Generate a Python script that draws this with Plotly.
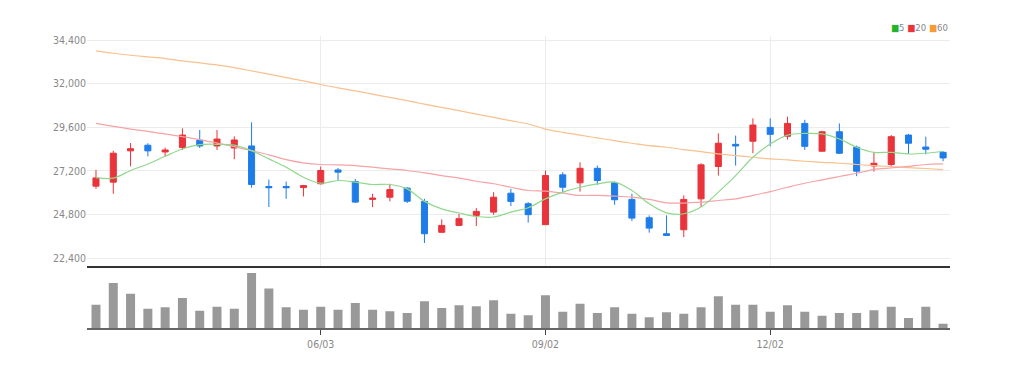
import plotly.graph_objects as go
from plotly.subplots import make_subplots

dates = ["2019-03-04", "2019-03-11", "2019-03-18", "2019-03-25", "2019-04-01", "2019-04-08",
         "2019-04-15", "2019-04-22", "2019-04-29", "2019-05-06", "2019-05-13", "2019-05-20",
         "2019-05-27", "2019-06-03", "2019-06-10", "2019-06-17", "2019-06-24", "2019-07-01",
         "2019-07-08", "2019-07-15", "2019-07-22", "2019-07-29", "2019-08-05", "2019-08-12",
         "2019-08-19", "2019-08-26", "2019-09-02", "2019-09-09", "2019-09-16", "2019-09-23",
         "2019-09-30", "2019-10-07", "2019-10-14", "2019-10-21", "2019-10-28", "2019-11-04",
         "2019-11-11", "2019-11-18", "2019-11-25", "2019-12-02", "2019-12-09", "2019-12-16",
         "2019-12-23", "2019-12-30", "2020-01-06", "2020-01-13", "2020-01-20", "2020-01-27",
         "2020-02-03", "2020-02-10"]

open_ = [26360, 26580, 28300, 28610, 28240, 28480, 28880, 28570, 28460, 28570,
         26340, 26340, 26280, 26490, 27250, 26610, 25630, 25750, 26250, 25520,
         23820, 24200, 24750, 24930, 25970, 25390, 24240, 26980, 26540, 27340,
         26540, 25630, 24620, 23740, 23960, 25660, 27440, 28660, 28830, 29590,
         29100, 29810, 28280, 29350, 28500, 27470, 27550, 29170, 28510, 28220]
high = [27250, 28310, 28730, 28720, 28480, 29540, 29450, 29450, 29100, 29870,
        26720, 26610, 26430, 27440, 27360, 26760, 25940, 26490, 26300, 25660,
        24530, 24840, 25150, 26030, 26210, 25480, 27220, 27130, 27670, 27490,
        26610, 25940, 24750, 24750, 25850, 27620, 29260, 29140, 30090, 30090,
        30180, 30010, 29410, 29810, 28590, 28220, 29170, 29230, 29080, 28280]
low = [26210, 25940, 27450, 28000, 27980, 28350, 28460, 28350, 27840, 26270,
       25210, 25660, 25790, 26450, 26670, 25440, 25210, 25520, 25430, 23230,
       23780, 24160, 24160, 24790, 25260, 24350, 24240, 26030, 26060, 26430,
       25330, 24440, 23800, 23620, 23560, 25210, 26940, 27490, 28170, 28550,
       28920, 28350, 28260, 28130, 26910, 27160, 27400, 28130, 28110, 27730]
close = [26810, 28170, 28420, 28300, 28350, 29170, 28570, 28950, 28900, 26450,
         26270, 26270, 26390, 27220, 27130, 25480, 25700, 26170, 25530, 23740,
         24200, 24570, 24970, 25750, 25520, 24790, 26940, 26300, 27340, 26670,
         25610, 24600, 24050, 23650, 25630, 27530, 28720, 28570, 29720, 29210,
         29810, 28550, 29350, 28170, 27180, 27620, 29080, 28720, 28390, 27910]

ma5 = [26830, 26800, 27220, 27580, 28000, 28400, 28640, 28660, 28620, 28310,
       27860, 27400, 26850, 26520, 26670, 26580, 26450, 26450, 26210, 25520,
       25110, 24880, 24690, 24660, 24930, 25170, 25660, 26030, 26300, 26480,
       26580, 26120, 25390, 24890, 24840, 25210, 26030, 26940, 27950, 28680,
       29170, 29260, 29230, 28950, 28500, 28220, 28220, 28130, 28170, 28280]
ma20 = [29810, 29650, 29500, 29370, 29230, 29080, 28920, 28730, 28530, 28310,
        28080, 27820, 27640, 27550, 27530, 27490, 27400, 27310, 27220, 27090,
        26940, 26800, 26630, 26490, 26300, 26120, 26080, 25970, 25850, 25850,
        25810, 25750, 25630, 25440, 25430, 25480, 25570, 25660, 25850, 26060,
        26300, 26520, 26700, 26890, 27070, 27270, 27360, 27450, 27550, 27580]
ma60 = [33800, 33670, 33560, 33470, 33380, 33250, 33140, 33030, 32880, 32700,
        32520, 32330, 32150, 31950, 31770, 31600, 31420, 31240, 31060, 30870,
        30690, 30510, 30320, 30140, 29960, 29780, 29500, 29320, 29170, 29010,
        28860, 28720, 28590, 28500, 28370, 28260, 28130, 28040, 27950, 27860,
        27800, 27730, 27670, 27620, 27550, 27490, 27440, 27380, 27330, 27270]

volume = [70, 135, 103, 58, 62, 90, 52, 64, 58, 165,
          118, 62, 55, 64, 55, 75, 55, 50, 45, 80,
          60, 68, 65, 83, 43, 38, 98, 49, 73, 45,
          62, 43, 32, 47, 43, 62, 95, 70, 70, 49,
          68, 49, 37, 45, 45, 53, 64, 30, 64, 13]

price_ticks = [22400, 24800, 27200, 29600, 32000, 34400]
date_ticks = ["2019-06-03", "2019-09-02", "2019-12-02"]
date_tick_labels = ["06/03", "09/02", "12/02"]

UP = "#e8343a"
DOWN = "#1e7ce8"
FONT = "Liberation Sans Narrow, DejaVu Sans Condensed, Roboto, Liberation Sans, sans-serif"

fig = make_subplots(rows=2, cols=1, shared_xaxes=False, vertical_spacing=0.0,
                    row_heights=[0.79, 0.21])

fig.add_trace(go.Candlestick(
    x=dates, open=open_, high=high, low=low, close=close,
    increasing=dict(line=dict(color=UP, width=1), fillcolor=UP),
    decreasing=dict(line=dict(color=DOWN, width=1), fillcolor=DOWN),
    showlegend=False, hoverinfo="skip"), row=1, col=1)

for vals, col in [(ma60, "#f9c18f"), (ma20, "#f5a3a6"), (ma5, "#8fd88c")]:
    fig.add_trace(go.Scatter(x=dates, y=vals, mode="lines",
                             line=dict(color=col, width=1.2, shape="spline"),
                             showlegend=False, hoverinfo="skip"), row=1, col=1)

fig.add_trace(go.Bar(x=dates, y=volume, marker=dict(color="#999999", line=dict(width=0)),
                     width=0.52, showlegend=False, hoverinfo="skip"), row=2, col=1)

xr = [-0.52, 49.4]
fig.update_layout(
    width=1013, height=369,
    margin=dict(l=79, r=71, t=28, b=49),
    paper_bgcolor="white", plot_bgcolor="white",
    font=dict(family=FONT, size=10.5, color="#888888"),
    boxgap=0.5, boxgroupgap=0.3,
    xaxis=dict(type="category", range=xr, rangeslider=dict(visible=False),
               domain=[0, 1], showgrid=True, gridcolor="#ececec", gridwidth=1,
               tickvals=date_ticks, ticktext=["", "", ""], showticklabels=False,
               showline=True, linecolor="#333333", linewidth=2, ticks="",
               zeroline=False),
    yaxis=dict(domain=[0.212, 1.0], range=[21960, 34620], tickvals=price_ticks,
               tickformat=",d", showgrid=True, gridcolor="#ececec", gridwidth=1,
               zeroline=False, showline=False, ticks="", ticklen=0,
               tickfont=dict(family=FONT, size=10.5, color="#888888")),
    xaxis2=dict(type="category", range=xr, domain=[0, 1],
                tickvals=date_ticks, ticktext=date_tick_labels,
                showgrid=False, showline=True, linecolor="#666666", linewidth=2,
                ticks="outside", ticklen=5, tickcolor="#444444", tickwidth=1,
                tickfont=dict(family=FONT, size=10.5, color="#888888"),
                zeroline=False),
    yaxis2=dict(domain=[0, 0.2], range=[0, 175], showticklabels=False,
                showgrid=False, zeroline=False, showline=False),
)

fig.add_annotation(
    xref="paper", yref="paper", x=1.0, y=1.03, xanchor="right", yanchor="middle",
    showarrow=False, font=dict(family=FONT, size=9.5, color="#888888"),
    text=("<span style='color:#21b52a'>■</span>5 "
          "<span style='color:#e8343a'>■</span>20 "
          "<span style='color:#f39a3a'>■</span>60"))

fig.write_html("out.html")
